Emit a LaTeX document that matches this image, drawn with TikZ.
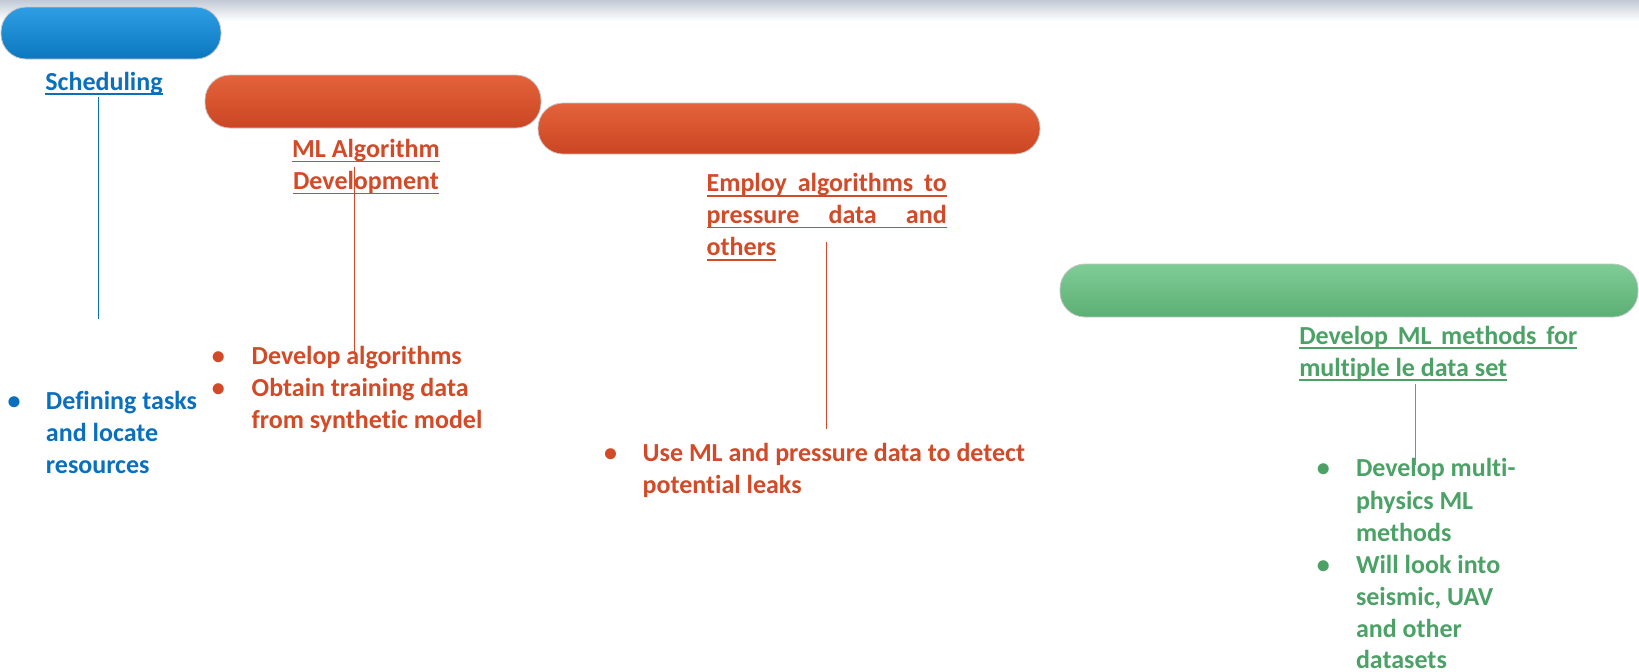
\documentclass[tikz,border=0pt]{standalone}
\usepackage{fontspec}
\setmainfont{Carlito}[Ligatures=NoCommon]
\definecolor{blueT}{HTML}{0A70BE}
\definecolor{redT}{HTML}{D24A27}
\definecolor{greenT}{HTML}{4CA266}
\definecolor{oliveL}{HTML}{8C9C2C}
\definecolor{bluebarA}{HTML}{2E9EE4}
\definecolor{bluebarB}{HTML}{1581C9}
\definecolor{bluebarC}{HTML}{0B77BF}
\definecolor{redbarA}{HTML}{E4633B}
\definecolor{redbarB}{HTML}{D24E2C}
\definecolor{redbarC}{HTML}{CB4522}
\definecolor{grnbarA}{HTML}{7FCC97}
\definecolor{grnbarB}{HTML}{68B981}
\definecolor{grnbarC}{HTML}{5CAF74}
\definecolor{bandtop}{HTML}{C3CAD6}
\newcommand\myul[1]{\setbox0\hbox{#1}\rlap{\rule[-2.4pt]{\wd0}{0.8pt}}\box0}
\tikzset{
  txt/.style={anchor=base west, inner sep=0pt, outer sep=0pt, font=\fontsize{13}{16}\selectfont\bfseries},
  ctxt/.style={anchor=base, inner sep=0pt, outer sep=0pt, font=\fontsize{13}{16}\selectfont\bfseries},
  bul/.style={anchor=base, inner sep=0pt, outer sep=0pt, font=\fontsize{13}{16}\selectfont\bfseries},
  bar/.style={rounded corners=12.5pt, draw=gray!45, line width=0.4pt, anchor=north west, inner sep=0pt, outer sep=0pt},
  conn/.style={line width=0.75pt},
}
\begin{document}
\begin{tikzpicture}[x=0.5pt,y=-0.5pt]
\useasboundingbox (0,0) rectangle (1639,671);
\fill[white] (0,0) rectangle (1639,671);
\shade[top color=bandtop, bottom color=white] (0,0) rectangle (1639,21);

% bars
\node[bar, top color=bluebarA, middle color=bluebarB, bottom color=bluebarC, minimum width=110pt, minimum height=26pt] (barS) at (1,7) {};
\node[bar, top color=redbarA, middle color=redbarB, bottom color=redbarC, minimum width=251pt, minimum height=25.5pt] (barE) at (538,103) {};
\node[bar, top color=redbarA, middle color=redbarB, bottom color=redbarC, minimum width=168pt, minimum height=26.5pt] (barM) at (205,75) {};
\node[bar, top color=grnbarA, middle color=grnbarB, bottom color=grnbarC, minimum width=289pt, minimum height=26.5pt] (barG) at (1060,264) {};

% titles
\node[ctxt, text=blueT] (tS) at (104,90) {\myul{Scheduling}};
\node[ctxt, text=redT] (tM1) at (366,157.3) {\myul{ML Algorithm}};
\node[ctxt, text=redT] (tM2) at (366,189.3) {\myul{Development}};
\node[txt, text=redT] (tE1) at (706.7,191.7) {\myul{\makebox[120pt][s]{Employ\hfill algorithms\hfill to}}};
\node[txt, text=redT] (tE2) at (706.7,223.3) {\myul{\makebox[120pt][s]{pressure\hfill data\hfill and}}};
\node[txt, text=redT] (tE3) at (706.7,255.7) {\myul{others}};
\node[txt, text=greenT] (tG1) at (1299.3,344) {\myul{\makebox[139pt][s]{Develop\hfill ML\hfill methods\hfill for}}};
\node[txt, text=greenT] (tG2) at (1299.3,376) {\myul{multiple le data set}};

% blue list
\node[bul, text=blueT] (bS1) at (14,409.3) {•};
\node[txt, text=blueT] (lS1) at (46,409.3) {Defining tasks};
\node[txt, text=blueT] (lS2) at (46,441.7) {and locate};
\node[txt, text=blueT] (lS3) at (46,473.3) {resources};

% red list 1
\node[bul, text=redT] (bM1) at (218.3,364.3) {•};
\node[bul, text=redT] (bM2) at (218.3,396) {•};
\node[txt, text=redT] (lM1) at (251.7,364.3) {Develop algorithms};
\node[txt, text=redT] (lM2) at (251.7,396) {Obtain training data};
\node[txt, text=redT] (lM3) at (251.7,428.3) {from synthetic model};

% red list 2
\node[bul, text=redT] (bE1) at (610.7,461.7) {•};
\node[txt, text=redT] (lE1) at (642.7,461.7) {Use ML and pressure data to detect};
\node[txt, text=redT] (lE2) at (642.7,493.3) {potential leaks};

% green list
\node[bul, text=greenT] (bG1) at (1323.3,476.7) {•};
\node[bul, text=greenT] (bG2) at (1323.3,573.3) {•};
\node[txt, text=greenT] (lG1) at (1356,476.7) {Develop multi-};
\node[txt, text=greenT] (lG2) at (1356,509) {physics ML};
\node[txt, text=greenT] (lG3) at (1356,541) {methods};
\node[txt, text=greenT] (lG4) at (1356,573.3) {Will look into};
\node[txt, text=greenT] (lG5) at (1356,605.7) {seismic, UAV};
\node[txt, text=greenT] (lG6) at (1356,637.7) {and other};
\node[txt, text=greenT] (lG7) at (1356,668.5) {datasets};

% connectors
\coordinate (cSa) at (98.3,96.7);
\coordinate (cSb) at (98.3,319);
\coordinate (cMa) at (354.3,166.7);
\coordinate (cMb) at (354.3,354);
\coordinate (cEa) at (826.7,241.7);
\coordinate (cEb) at (826.7,429.3);
\coordinate (cGa) at (1415.5,384.3);
\coordinate (cGb) at (1415.5,465);
\draw[conn, blueT] (cSa) -- (cSb);
\draw[conn, redT] (cMa) -- (cMb);
\draw[conn, redT] (cEa) -- (cEb);
\draw[conn, oliveL] (cGa) -- (cGb);
\end{tikzpicture}
\end{document}
